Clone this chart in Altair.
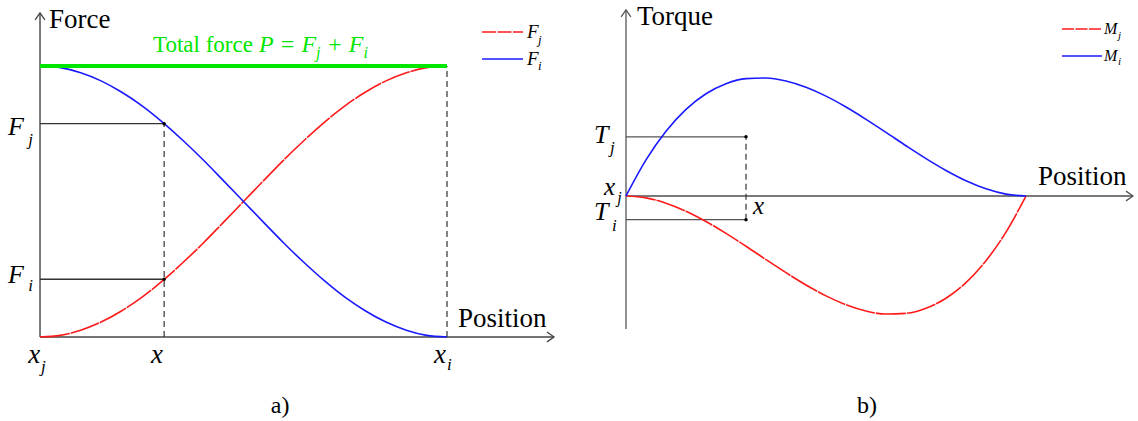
import altair as alt
import pandas as pd

# ---------------- panel a: force shared between supports j and i ----------------
pos_a = [0.00, 0.05, 0.10, 0.15, 0.20, 0.25, 0.30, 0.35, 0.40, 0.45, 0.50,
         0.55, 0.60, 0.65, 0.70, 0.75, 0.80, 0.85, 0.90, 0.95, 1.00]
force_j = [0.000, 0.006, 0.025, 0.055, 0.096, 0.146, 0.206, 0.273, 0.345, 0.422, 0.500,
           0.578, 0.655, 0.727, 0.794, 0.854, 0.904, 0.945, 0.975, 0.994, 1.000]
force_i = [1.000, 0.994, 0.975, 0.945, 0.904, 0.854, 0.794, 0.727, 0.655, 0.578, 0.500,
           0.422, 0.345, 0.273, 0.206, 0.146, 0.096, 0.055, 0.025, 0.006, 0.000]
total_force = 1.0
probe_x_a = 0.305
probe_hi_a = 0.787
probe_lo_a = 0.213

# ---------------- panel b: end torques along the span ----------------
pos_b = pos_a
torque_j = [0.000, -0.016, -0.061, -0.129, -0.216, -0.316, -0.425, -0.538, -0.648, -0.752, -0.844,
            -0.919, -0.972, -0.998, -0.992, -0.949, -0.864, -0.732, -0.547, -0.305, 0.000]
torque_i = [0.000, 0.305, 0.547, 0.732, 0.864, 0.949, 0.992, 0.998, 0.972, 0.919, 0.844,
            0.752, 0.648, 0.538, 0.425, 0.316, 0.216, 0.129, 0.061, 0.016, 0.000]
probe_x_b = 0.30
probe_hi_b = 0.50
probe_lo_b = -0.20

FONT = "Liberation Serif"
INK = "#333333"
RED = "#ff1a1a"
BLUE = "#1a1aff"
GREEN = "#00e600"

UP = "M-0.7,1L0,0L0.7,1"
RIGHT = "M-1,-0.7L0,0L-1,0.7"

xa = alt.Scale(domain=[-0.0983, 1.2776], nice=False, zero=False)
ya = alt.Scale(domain=[-0.3100, 1.2435], nice=False, zero=False)
xb = alt.Scale(domain=[-0.165, 1.280], nice=False, zero=False)
yb = alt.Scale(domain=[-1.9019, 1.6568], nice=False, zero=False)


def X(xs):
    return alt.X("x:Q", scale=xs, axis=None)


def Y(ys):
    return alt.Y("y:Q", scale=ys, axis=None)


def curve(xs, ys, xv, yv, color, dash=None, width=1.6):
    df = pd.DataFrame({"x": xv, "y": yv})
    kw = dict(color=color, strokeWidth=width, interpolate="monotone")
    if dash:
        kw["strokeDash"] = dash
    return alt.Chart(df).mark_line(**kw).encode(x=X(xs), y=Y(ys))


def segs(xs, ys, rows, color, width, dash=None):
    df = pd.DataFrame(rows, columns=["x", "x2", "y", "y2"])
    kw = dict(color=color, strokeWidth=width)
    if dash:
        kw["strokeDash"] = dash
    return alt.Chart(df).mark_rule(**kw).encode(
        x=X(xs), x2="x2:Q", y=Y(ys), y2="y2:Q")


def arrows(xs, ys, rows, color, width):
    df = pd.DataFrame(rows, columns=["x", "y", "shape"])
    return alt.Chart(df).mark_point(
        filled=False, color=color, strokeWidth=width, opacity=1, size=196
    ).encode(x=X(xs), y=Y(ys), shape=alt.Shape("shape:N", scale=None))


def dots(xs, ys, rows):
    df = pd.DataFrame(rows, columns=["x", "y"])
    return alt.Chart(df).mark_circle(color="black", size=12, opacity=1).encode(
        x=X(xs), y=Y(ys))


def labels(xs, ys, rows, italic):
    df = pd.DataFrame(rows, columns=["t", "x", "y", "s", "c"])
    return alt.Chart(df).mark_text(
        font=FONT, fontStyle="italic" if italic else "normal",
        align="left", baseline="alphabetic"
    ).encode(x=X(xs), y=Y(ys), text="t:N",
             size=alt.Size("s:Q", scale=None),
             color=alt.Color("c:N", scale=None))


# ---------------- panel a ----------------
a_layers = [
    segs(xa, ya, [[0, 0, 0, 1.1956], [0, 1.2629, 0, 0]], "#444444", 1.4),
    arrows(xa, ya, [[0, 1.1956, UP], [1.2629, 0, RIGHT]], "#444444", 1.3),
    segs(xa, ya, [[probe_x_a, probe_x_a, 0, probe_hi_a], [1, 1, 0, total_force]],
         INK, 1.2, dash=[6, 4]),
    segs(xa, ya, [[0, probe_x_a, probe_hi_a, probe_hi_a],
                  [0, probe_x_a, probe_lo_a, probe_lo_a]], INK, 1.3),
    curve(xa, ya, pos_a, force_j, RED, dash=[30, 1]),
    curve(xa, ya, pos_a, force_i, BLUE),
    segs(xa, ya, [[0, 1, total_force, total_force]], GREEN, 4),
    dots(xa, ya, [[probe_x_a, probe_hi_a], [probe_x_a, probe_lo_a]]),
    # legend
    segs(xa, ya, [[1.086, 1.1867, 1.1255, 1.1255]], RED, 1.6, dash=[14, 1.5]),
    segs(xa, ya, [[1.086, 1.1867, 1.0258, 1.0258]], BLUE, 1.6),
    labels(xa, ya, [
        ["Force", 0.0221, 1.1402, 27, "black"],
        ["Total force", 0.2776, 1.0517, 23, GREEN],
        ["Position", 1.027, 0.0369, 27, "black"],
        ["a)", 0.5669, -0.2804, 24, "black"],
    ], italic=False),
    labels(xa, ya, [
        ["F", -0.0786, 0.7454, 26, "black"],
        ["j", -0.0290, 0.7085, 17, "black"],
        ["F", -0.0786, 0.1993, 26, "black"],
        ["i", -0.0290, 0.1697, 17, "black"],
        ["x", -0.029, -0.0959, 27, "black"],
        ["j", 0.0025, -0.129, 17, "black"],
        ["x", 0.2727, -0.0959, 27, "black"],
        ["x", 0.9680, -0.0959, 27, "black"],
        ["i", 1.0, -0.1218, 17, "black"],
        ["P = F", 0.5380, 1.0517, 24, GREEN],
        ["j", 0.6780, 1.0295, 16, GREEN],
        ["+ F", 0.7040, 1.0517, 24, GREEN],
        ["i", 0.7950, 1.0295, 16, GREEN],
        ["F", 1.1966, 1.1033, 19, "black"],
        ["j", 1.2236, 1.0812, 13, "black"],
        ["F", 1.1966, 1.0037, 19, "black"],
        ["i", 1.2236, 0.985, 13, "black"],
    ], italic=True),
]
panel_a = alt.layer(*a_layers).properties(width=560, height=421)

# ---------------- panel b ----------------
b_layers = [
    segs(xb, yb, [[0, 0, -1.1243, 1.5723]], "#555555", 1.3),
    segs(xb, yb, [[0, 1.2675, 0, 0]], "#7a7a7a", 2),
    arrows(xb, yb, [[0, 1.5723, UP], [1.2675, 0, RIGHT]], "#555555", 1.3),
    segs(xb, yb, [[probe_x_b, probe_x_b, probe_lo_b, probe_hi_b]], INK, 1.2, dash=[6, 4]),
    segs(xb, yb, [[0, probe_x_b, probe_hi_b, probe_hi_b],
                  [0, probe_x_b, probe_lo_b, probe_lo_b]], "#555555", 1.3),
    curve(xb, yb, pos_b, torque_j, RED, dash=[30, 1]),
    curve(xb, yb, pos_b, torque_i, BLUE),
    dots(xb, yb, [[probe_x_b, probe_hi_b], [probe_x_b, probe_lo_b]]),
    # legend
    segs(xb, yb, [[1.09, 1.19, 1.4117, 1.4117]], RED, 1.5, dash=[12, 1.5]),
    segs(xb, yb, [[1.09, 1.19, 1.1834, 1.1834]], BLUE, 1.5),
    labels(xb, yb, [
        ["Torque", 0.0275, 1.4455, 27, "black"],
        ["Position", 1.03, 0.093, 27, "black"],
        ["b)", 0.5775, -1.834, 24, "black"],
    ], italic=False),
    labels(xb, yb, [
        ["T", -0.0800, 0.448, 26, "black"],
        ["j", -0.040, 0.3635, 17, "black"],
        ["x", -0.055, 0.0085, 25, "black"],
        ["j", -0.022, -0.059, 16, "black"],
        ["T", -0.0800, -0.203, 26, "black"],
        ["i", -0.035, -0.296, 17, "black"],
        ["x", 0.3175, -0.152, 25, "black"],
        ["M", 1.195, 1.3694, 16, "black"],
        ["j", 1.2300, 1.327, 11, "black"],
        ["M", 1.195, 1.1412, 16, "black"],
        ["i", 1.2300, 1.1074, 11, "black"],
    ], italic=True),
]
panel_b = alt.layer(*b_layers).properties(width=578, height=421)

chart = alt.hconcat(panel_a, panel_b, spacing=0).properties(
    padding=0, background="white"
).configure_view(stroke=None)

chart.save("out.html", embed_options={"renderer": "svg", "actions": False})
